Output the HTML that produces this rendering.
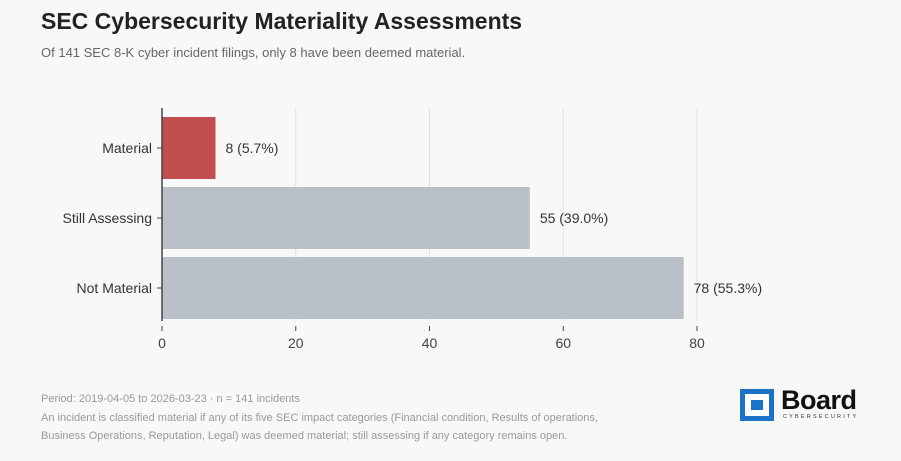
<!DOCTYPE html>
<html><head><meta charset="utf-8"><style>
body{margin:0;background:#f8f8f8;font-family:"Liberation Sans",Arial,sans-serif;}
#wrap{position:relative;width:901px;height:461px;overflow:hidden;background:#f8f8f8}
.t{position:absolute;white-space:nowrap}
</style></head><body>
<div id="wrap">
<div class="t" style="left:41px;top:8px;font-size:23px;font-weight:bold;color:#222">SEC Cybersecurity Materiality Assessments</div>
<div class="t" style="left:41px;top:45px;font-size:13px;color:#666">Of 141 SEC 8-K cyber incident filings, only 8 have been deemed material.</div>
<svg id="chart" width="901" height="461" style="position:absolute;left:0;top:0"></svg>
<div class="t" style="left:41px;top:393px;font-size:11px;color:#999">Period: 2019-04-05 to 2026-03-23 · n = 141 incidents</div>
<div class="t" style="left:41px;top:412px;font-size:11px;color:#999">An incident is classified material if any of its five SEC impact categories (Financial condition, Results of operations,</div>
<div class="t" style="left:41px;top:430px;font-size:11px;color:#999">Business Operations, Reputation, Legal) was deemed material; still assessing if any category remains open.</div>
<div style="position:absolute;left:740px;top:389px">
<div style="position:absolute;left:0;top:0;width:24px;height:22px;border:5px solid #1a73c8;background:#fff"><div style="position:absolute;left:6px;top:6px;width:12px;height:10px;background:#1a73c8"></div></div>
<div class="t" style="left:41px;top:-4px;font-size:27px;font-weight:bold;color:#111;letter-spacing:-0.5px">Board</div>
<div class="t" style="left:43px;top:25px;font-size:5.5px;color:#333;letter-spacing:2.2px">CYBERSECURITY</div>
</div>
</div>
<script>
const categories=["Material","Still Assessing","Not Material"];
const values=[8,55,78];
const labels=["8 (5.7%)","55 (39.0%)","78 (55.3%)"];
const ticks=[0,20,40,60,80];
const colors=["#c14f4d","#b9c0c8","#b9c0c8"];
const svg=document.getElementById('chart');
const NS="http://www.w3.org/2000/svg";
const x0=162,x1=697,xmax=80,yTop=113,band=70,axTop=108,axBot=321;
const X=v=>x0+(x1-x0)*v/xmax;
const Y=i=>yTop+band*i+band/2;
function mk(t,a){const e=document.createElementNS(NS,t);for(const k in a)e.setAttribute(k,a[k]);svg.appendChild(e);return e;}
ticks.forEach(t=>{
 if(t>0){const g=mk('line',{x1:X(t),x2:X(t),y1:axTop,y2:axBot,stroke:'#e2e2e2','stroke-width':1});
 
 }
 const tk=mk('line',{x1:X(t),x2:X(t),y1:326,y2:331,stroke:'#444','stroke-width':1});
 
 
 const tl=mk('text',{x:X(t),y:348,'text-anchor':'middle','font-size':14,fill:'#444','font-family':'Liberation Sans, sans-serif'});
 tl.textContent=t;
 
 
});
categories.forEach((c,i)=>{
 const cy=Y(i);
 const b=mk('rect',{x:X(0),y:cy-31,width:X(values[i])-X(0),height:62,fill:colors[i]});
 
 
 const v=mk('text',{x:X(values[i])+10,y:cy+5,'font-size':14,fill:'#333','font-family':'Liberation Sans, sans-serif'});
 v.textContent=labels[i];
 
 
 const tk=mk('line',{x1:X(0)-5,x2:X(0),y1:cy,y2:cy,stroke:'#444'});
 
 
 const l=mk('text',{x:X(0)-10,y:cy+5,'text-anchor':'end','font-size':14,fill:'#333','font-family':'Liberation Sans, sans-serif'});
 l.textContent=c;
 
 
});
const ax=mk('line',{x1:X(0),x2:X(0),y1:axTop,y2:axBot,stroke:'#444','stroke-width':1.5});


</script>
</body></html>
